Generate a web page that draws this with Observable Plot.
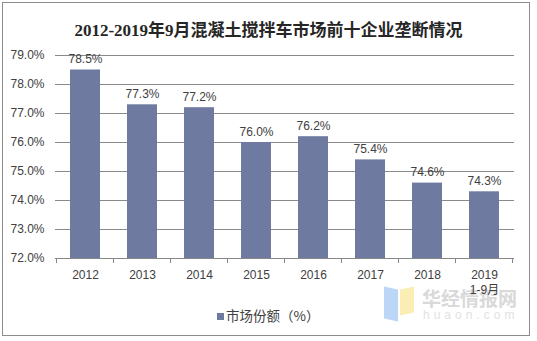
<!DOCTYPE html>
<html><head><meta charset="utf-8">
<script src="https://cdn.jsdelivr.net/npm/d3@7"></script>
<script src="https://cdn.jsdelivr.net/npm/@observablehq/plot@0.6"></script>
<style>
html,body{margin:0;padding:0;background:#fff;}
#wrap{position:relative;width:537px;height:341px;overflow:hidden;font-family:"Liberation Sans",Arial,"Noto Sans CJK SC",sans-serif;}
#border{position:absolute;left:2px;top:2px;width:526px;height:332px;border:1px solid #8c8c8c;}
#title{position:absolute;left:0;top:16px;width:537px;text-align:center;font-family:"Liberation Serif","DejaVu Serif","Noto Sans CJK SC",serif;font-weight:bold;font-size:17px;color:#262626;white-space:nowrap;}
#plot{position:absolute;left:0;top:0;}
#legend{position:absolute;left:217px;top:305px;font-size:13.5px;color:#404040;font-family:"Noto Sans CJK SC",sans-serif;white-space:nowrap;}
#legend span.sw{display:inline-block;width:7px;height:7px;margin-right:2px;vertical-align:1px;}
#wm1{position:absolute;left:422px;top:284px;font-size:19px;color:#d9d9d9;font-family:"Noto Sans CJK SC",sans-serif;font-weight:bold;white-space:nowrap;}
#wm2{position:absolute;left:423px;top:308px;font-size:12px;color:#e2e2e2;letter-spacing:4px;white-space:nowrap;}
#logo1{position:absolute;left:384px;top:288px;width:14px;height:32px;background:#bcd6f5;transform:skewY(12deg);}
#logo2{position:absolute;left:400px;top:288px;width:14px;height:26px;background:#fbeeb4;transform:skewY(-12deg);}
</style></head>
<body>
<div id="wrap">
  <div id="border"></div>
  <div id="logo1"></div><div id="logo2"></div>
  <div id="wm1">华经情报网</div>
  <div id="wm2">huaon.com</div>
  <div id="plot"></div>
  <div id="title">2012-2019年9月混凝土搅拌车市场前十企业垄断情况</div>
  <div id="legend"></div>
</div>
<script>
const categories = ["2012","2013","2014","2015","2016","2017","2018","2019"];
const tickLabels = ["2012","2013","2014","2015","2016","2017","2018","2019\n1-9月"];
const shares = [78.5, 77.3, 77.2, 76.0, 76.2, 75.4, 74.6, 74.3];
const yTicks = [72, 73, 74, 75, 76, 77, 78, 79];
const seriesName = "市场份额（%）";
const barColor = "#6e7aa0";

const data = categories.map((c, i) => ({cat: c, value: shares[i], label: tickLabels[i]}));
const labelOf = new Map(data.map(d => [d.cat, d.label]));

const boundaryTicks = (index, scales, values, dimensions) => {
  const x = scales.x;
  const step = x.step ? x.step() : (dimensions.width - dimensions.marginLeft - dimensions.marginRight) / categories.length;
  const bw = x.bandwidth ? x.bandwidth() : 0;
  const y0 = scales.y(yTicks[0]);
  const g = d3.create("svg:g");
  const edges = categories.map(c => x(c) - (step - bw) / 2);
  edges.push(x(categories[categories.length - 1]) + bw + (step - bw) / 2);
  for (const e of edges) {
    g.append("line").attr("x1", e).attr("x2", e).attr("y1", y0).attr("y2", y0 + 5)
      .attr("stroke", "#868686").attr("stroke-width", 1);
  }
  return g.node();
};

const chart = Plot.plot({
  width: 537,
  height: 341,
  marginLeft: 55,
  marginRight: 23,
  marginTop: 55,
  marginBottom: 83,
  style: {fontFamily: "'Liberation Sans', Arial, 'Noto Sans CJK SC', sans-serif", fontSize: "12px", color: "#404040", background: "transparent"},
  x: {domain: categories, paddingInner: 0.48, paddingOuter: 0.24, axis: null},
  y: {domain: [72, 79], axis: null},
  marks: [
    Plot.ruleY(yTicks.slice(1), {stroke: "#8a8a8a", strokeWidth: 1}),
    Plot.barY(data, {x: "cat", y1: 72, y2: "value", fill: barColor}),
    Plot.ruleY([yTicks[0]], {stroke: "#868686", strokeWidth: 1}),
    boundaryTicks,
    Plot.axisY({ticks: yTicks, tickSize: 0, tickPadding: 11, tickFormat: d => d.toFixed(1) + "%", label: null, fontSize: 12, fill: "#404040"}),
    Plot.axisX({tickSize: 0, tickPadding: 9, tickFormat: d => labelOf.get(d), label: null, fontSize: 12, fill: "#404040", lineHeight: 1.3}),
    Plot.text(data, {x: "cat", y: "value", text: d => d.value.toFixed(1) + "%", lineAnchor: "bottom", dy: -7, fontSize: 12, fill: "#404040"})
  ]
});
document.getElementById("plot").appendChild(chart);

document.getElementById("legend").innerHTML = `<span class="sw" style="background:${barColor}"></span>${seriesName}`;
</script>
</body></html>
